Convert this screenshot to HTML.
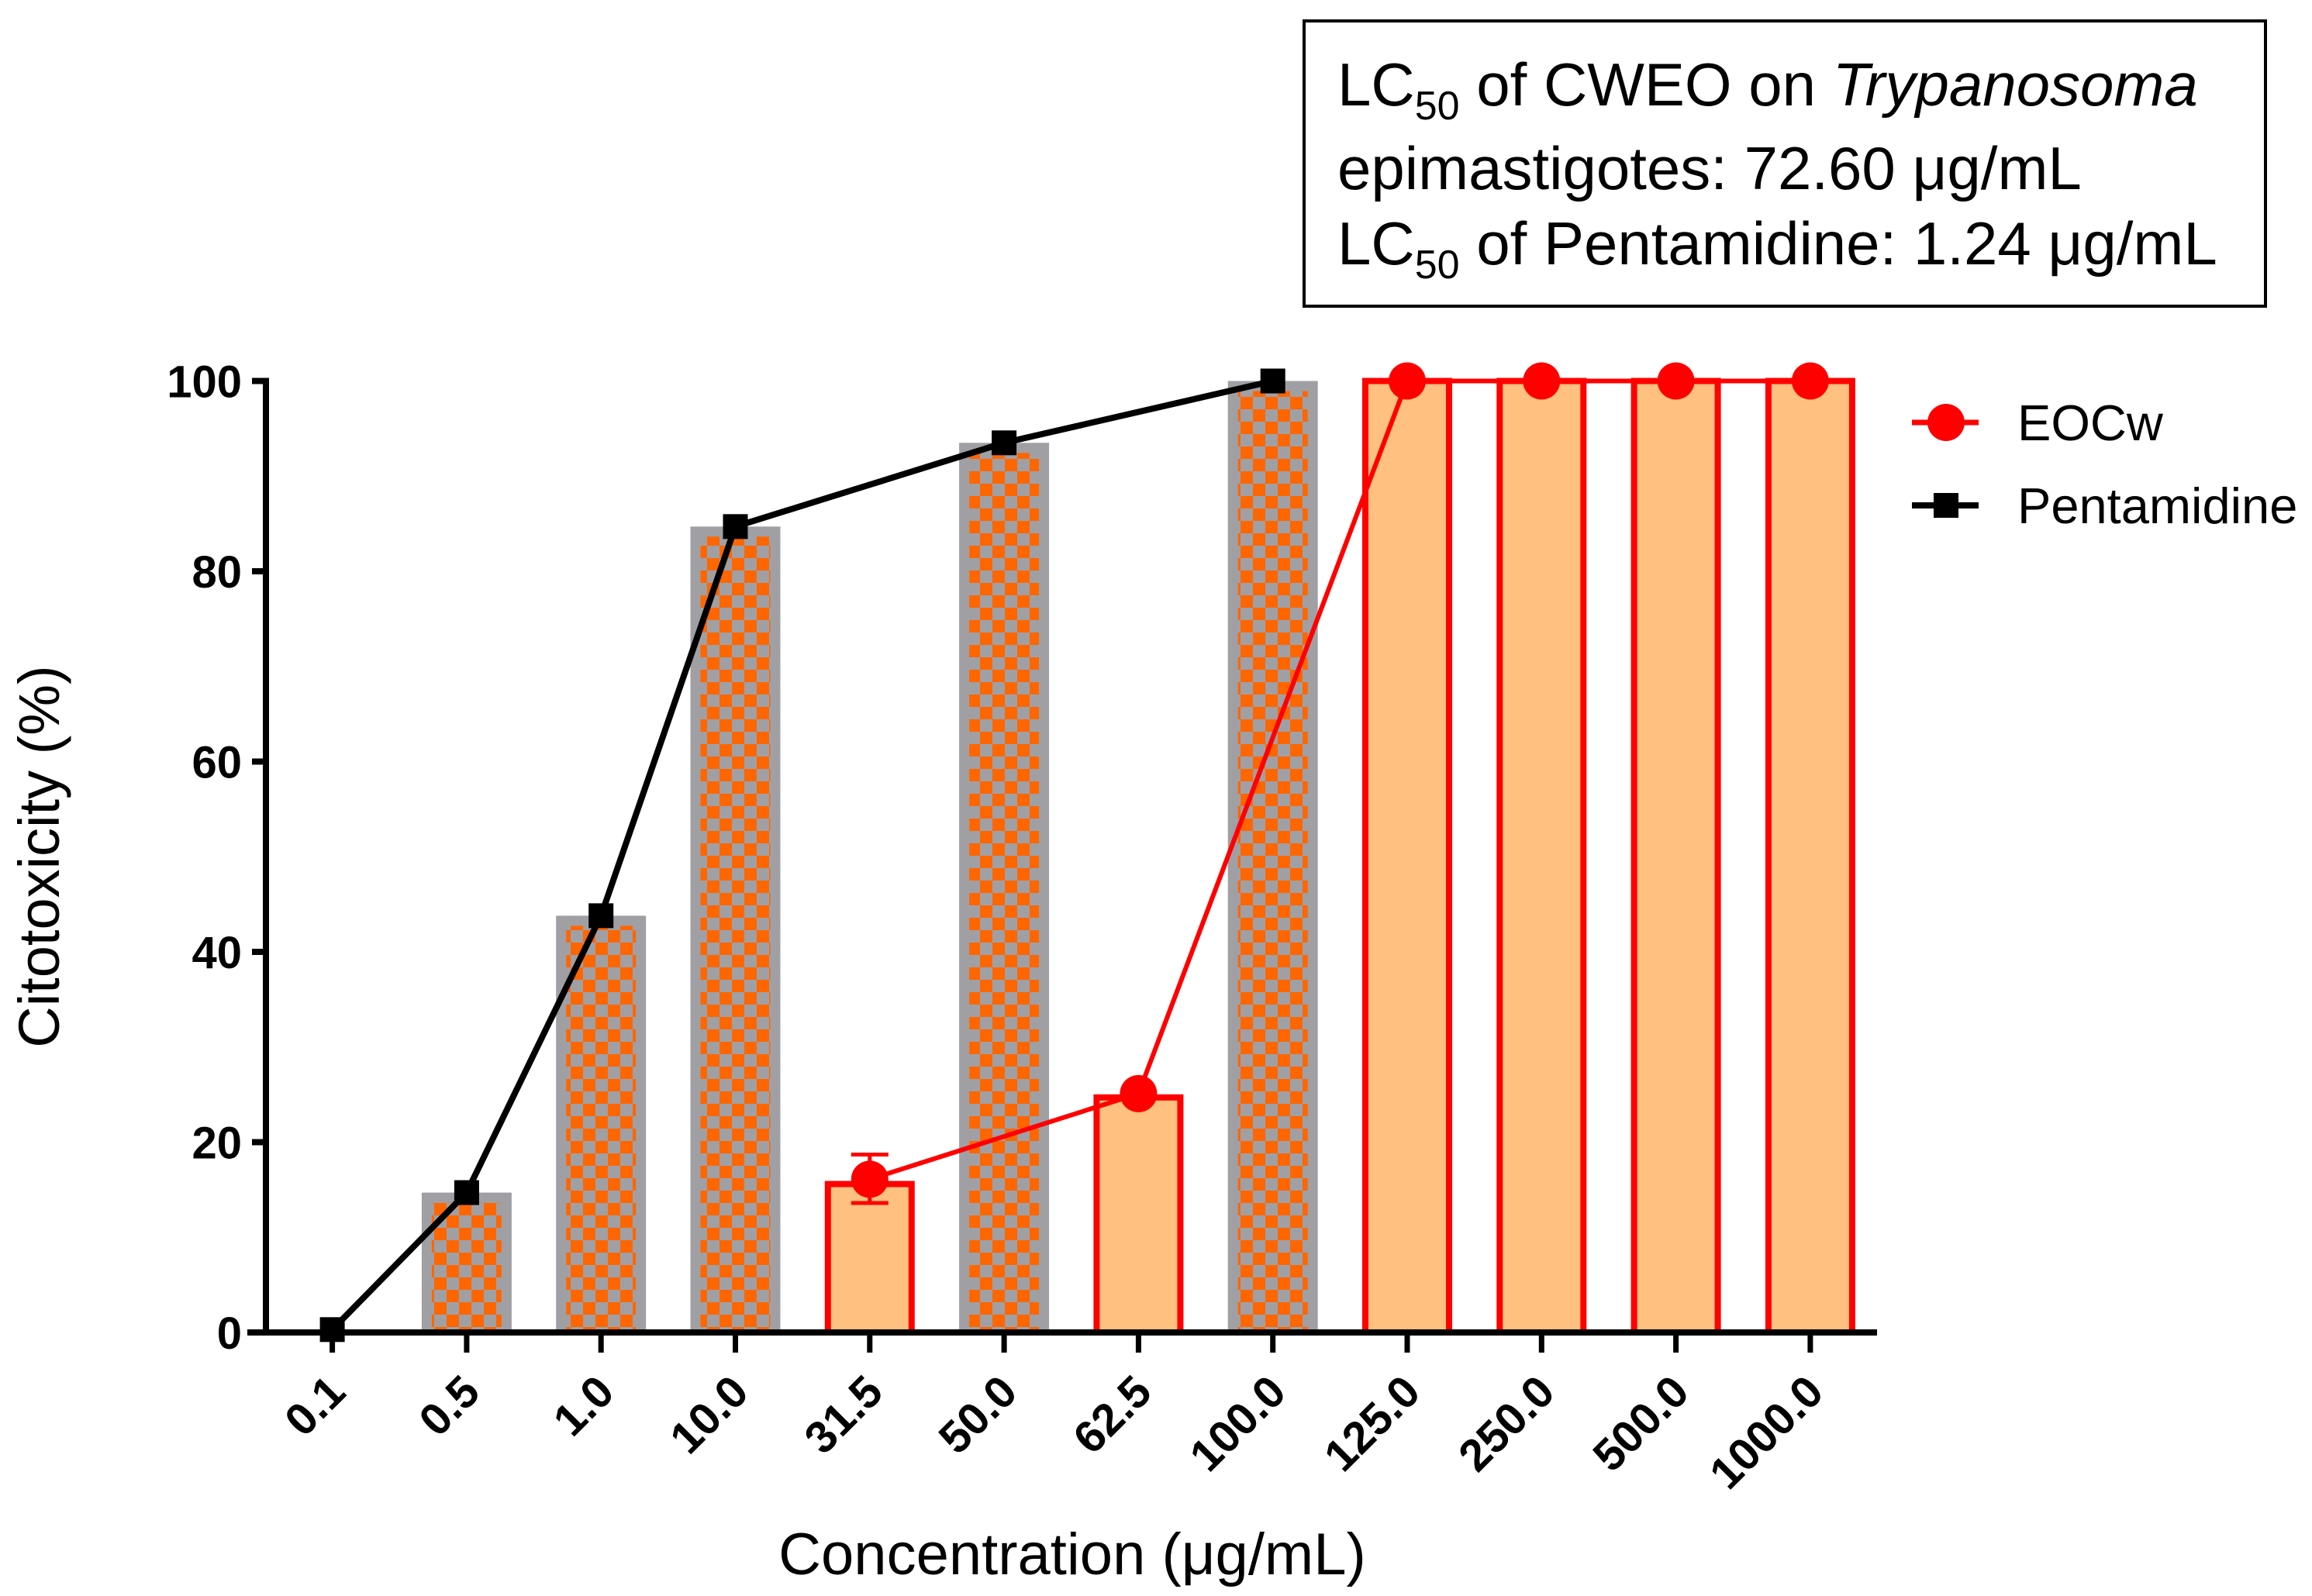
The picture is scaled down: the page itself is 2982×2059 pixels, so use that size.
<!DOCTYPE html>
<html><head><meta charset="utf-8">
<style>html,body{margin:0;padding:0;background:#fff}svg{display:block}</style>
</head><body>
<svg id="chart" width="2982" height="2059" viewBox="0 0 2982 2059" xmlns="http://www.w3.org/2000/svg" font-family="Liberation Sans, Arial, sans-serif">
<defs>
<pattern id="checker" x="0" y="0" width="32" height="32" patternUnits="userSpaceOnUse">
<rect width="32" height="32" fill="#a0a0a4"/>
<rect x="0" y="0" width="16" height="16" fill="#ff6600"/>
<rect x="16" y="16" width="16" height="16" fill="#ff6600"/>
</pattern>
</defs>
<g id="annot">
<rect x="1682" y="27" width="1240" height="368" fill="#fff" stroke="#000" stroke-width="4"/>
<text x="1725" y="136" font-size="78">LC<tspan font-size="52" dy="18">50</tspan><tspan dy="-18"> of CWEO on </tspan><tspan font-style="italic">Trypanosoma</tspan></text>
<text x="1725" y="244" font-size="78">epimastigotes: 72.60 μg/mL</text>
<text x="1725" y="341" font-size="78">LC<tspan font-size="52" dy="18">50</tspan><tspan dy="-18"> of Pentamidine: 1.24 μg/mL</tspan></text>
</g>
<g id="bars"></g>
<g id="lines"></g>
<g id="axes"></g>
<text x="0" y="0" font-size="74" text-anchor="middle" transform="translate(76,1105) rotate(-90)">Citotoxicity (%)</text>
<text x="1383" y="2031" font-size="76" text-anchor="middle">Concentration (μg/mL)</text>
<g>
<g>
<line x1="2466" y1="545" x2="2552" y2="545" stroke="#ff0000" stroke-width="7"/>
<circle cx="2510" cy="545" r="24" fill="#ff0000"/>
<text x="2602" y="568" font-size="65">EOCw</text>
</g>
<g>
<line x1="2466" y1="652" x2="2552" y2="652" stroke="#000" stroke-width="8"/>
<rect x="2494" y="636" width="32" height="32" fill="#000"/>
<text x="2602" y="675" font-size="65">Pentamidine</text>
</g>
</g>
</svg>
<script>
const categories = ["0.1","0.5","1.0","10.0","31.5","50.0","62.5","100.0","125.0","250.0","500.0","1000.0"];
const pentaCats = ["0.1","0.5","1.0","10.0","50.0","100.0"];
const pentaBars = [0.3, 14.7, 43.8, 84.7, 93.5, 100];
const pentaPoints = [0.3, 14.7, 43.8, 84.7, 93.5, 100];
const eocCats = ["31.5","62.5","125.0","250.0","500.0","1000.0"];
const eocBars = [15.6, 24.7, 100, 100, 100, 100];
const eocPoints = [16.1, 25.1, 100, 100, 100, 100];
const eocErrLow = [13.6, 25.1, 100, 100, 100, 100];
const eocErrHigh = [18.7, 25.1, 100, 100, 100, 100];
const yTicks = [0, 20, 40, 60, 80, 100];

const NS = "http://www.w3.org/2000/svg";
const X0 = 428.6, DX = 173.3, Y0 = 1719, YS = 12.275, BW = 116;
function xPos(c){ return X0 + categories.indexOf(c) * DX; }
function yPos(v){ return Y0 - v * YS; }
function mk(tag, attrs, parent){ const e = document.createElementNS(NS, tag); for (const k in attrs) e.setAttribute(k, attrs[k]); parent.appendChild(e); return e; }

const bars = document.getElementById('bars');
pentaCats.forEach((c, i) => {
  const x = xPos(c) - BW/2, top = yPos(pentaBars[i]), h = Math.max(Y0 - top, 3);
  const g = mk('g', {}, bars);
  
  
  mk('rect', {x: x, y: Y0 - h, width: BW, height: h, fill: '#a0a0a4'}, g);
  if (h > 30) mk('rect', {x: x + 13, y: Y0 - h + 13, width: BW - 26, height: h - 13, fill: 'url(#checker)'}, g);
});
eocCats.forEach((c, i) => {
  const top = yPos(eocBars[i]);
  const r = mk('rect', {x: xPos(c) - BW/2 + 4, y: top, width: BW - 8, height: Y0 - top, fill: '#ffc080', stroke: '#ff0000', 'stroke-width': 8}, bars);
  
  
});

const lines = document.getElementById('lines');
const pl = mk('polyline', {points: pentaCats.map((c, i) => xPos(c) + ',' + yPos(pentaPoints[i])).join(' '), fill: 'none', stroke: '#000', 'stroke-width': 8}, lines);


const el = mk('polyline', {points: eocCats.map((c, i) => xPos(c) + ',' + yPos(eocPoints[i])).join(' '), fill: 'none', stroke: '#ff0000', 'stroke-width': 6}, lines);


eocCats.forEach((c, i) => {
  const x = xPos(c);
  if (eocErrHigh[i] - eocErrLow[i] > 0.5) {
    const eb = mk('path', {d: `M${x},${yPos(eocErrLow[i])}V${yPos(eocErrHigh[i])}M${x-24},${yPos(eocErrLow[i])}h48M${x-24},${yPos(eocErrHigh[i])}h48`, stroke: '#ff0000', 'stroke-width': 5, fill: 'none'}, lines);
    
    
  }
  const p = mk('circle', {cx: x, cy: yPos(eocPoints[i]), r: 24, fill: '#ff0000'}, lines);
  
  
});
pentaCats.forEach((c, i) => {
  const p = mk('rect', {x: xPos(c) - 16, y: yPos(pentaPoints[i]) - 16, width: 32, height: 32, fill: '#000'}, lines);
  
  
});

const axes = document.getElementById('axes');
const ya = mk('line', {x1: 343, y1: yPos(100) - 4, x2: 343, y2: Y0 + 4, stroke: '#000', 'stroke-width': 8}, axes);


const xa = mk('line', {x1: 319, y1: Y0, x2: 2421, y2: Y0, stroke: '#000', 'stroke-width': 8}, axes);


yTicks.forEach(v => {
  const y = yPos(v);
  mk('line', {x1: 325, y1: y, x2: 343, y2: y, stroke: '#000', 'stroke-width': 8}, axes);
  const t = mk('text', {x: 312, y: y + 21, 'font-size': 58, 'font-weight': 'bold', 'text-anchor': 'end'}, axes);
  t.textContent = v;
  
  
});
categories.forEach(c => {
  const x = xPos(c);
  mk('line', {x1: x, y1: Y0, x2: x, y2: Y0 + 26, stroke: '#000', 'stroke-width': 7}, axes);
  const t = mk('text', {x: 0, y: 0, 'font-size': 58, 'font-weight': 'bold', 'text-anchor': 'end', transform: `translate(${x + 20},${Y0 + 80}) rotate(-45)`}, axes);
  t.textContent = c;
  
  
});
</script>
</body></html>
